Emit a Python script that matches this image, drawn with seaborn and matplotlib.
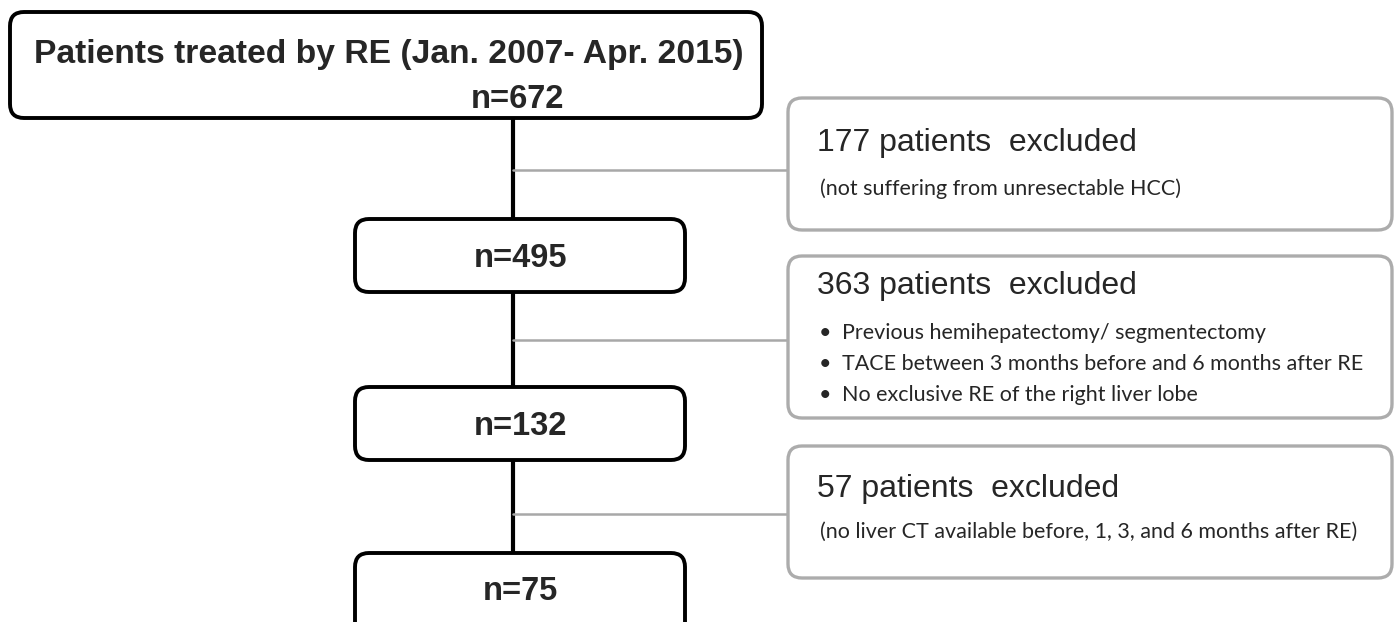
import matplotlib
matplotlib.use("Agg")
from matplotlib import pyplot as plt
from matplotlib.patches import FancyBboxPatch
import pandas as pd
import seaborn as sns

# flow data
stage_n = [672, 495, 132, 75]
title = "Patients treated by RE (Jan. 2007- Apr. 2015)"
excluded_n = [177, 363, 57]
excluded_notes = [
    ["(not suffering from unresectable HCC)"],
    ["Previous hemihepatectomy/ segmentectomy",
     "TACE between 3 months before and 6 months after RE",
     "No exclusive RE of the right liver lobe"],
    ["(no liver CT available before, 1, 3, and 6 months after RE)"],
]

sns.set_theme(style="white")
plt.rcParams["font.family"] = ["Liberation Sans", "DejaVu Sans"]

fig = plt.figure(figsize=(14, 6.22), dpi=100)
ax = fig.add_axes([0, 0, 1, 1])

# layout (pixels)
spine_x = 513
main_boxes = [(10, 12, 752, 106), (355, 219, 330, 73), (355, 387, 330, 73), (355, 553, 330, 85)]
side_boxes = [(788, 98, 604, 132), (788, 256, 604, 162), (788, 446, 604, 132)]
branch_y = [170, 340, 514]


def rbox(x, y, w, h, ec, lw):
    ax.add_patch(FancyBboxPatch((x, y), w, h, boxstyle="round,pad=0,rounding_size=14",
                                fc="white", ec=ec, lw=lw, zorder=2))


# black spine between main boxes
for i in range(len(main_boxes) - 1):
    top = main_boxes[i][1] + main_boxes[i][3]
    bot = main_boxes[i + 1][1]
    seg = pd.DataFrame({"x": [spine_x, spine_x], "y": [top, bot]})
    sns.lineplot(data=seg, x="x", y="y", ax=ax, color="black", lw=3, sort=False,
                 estimator=None, zorder=1)

# grey branches
for by, sb in zip(branch_y, side_boxes):
    seg = pd.DataFrame({"x": [spine_x, sb[0]], "y": [by, by]})
    sns.lineplot(data=seg, x="x", y="y", ax=ax, color="#a8a8a8", lw=1.8, sort=False,
                 estimator=None, zorder=1)

for b in main_boxes:
    rbox(*b, ec="black", lw=2.8)
for b in side_boxes:
    rbox(*b, ec="#acacac", lw=2.4)

ax.set_xlim(0, 1400)
ax.set_ylim(622, 0)
ax.axis("off")

big = 23.5
ax.text(34, 63, title, fontsize=24.2, fontweight="bold", va="baseline", ha="left", zorder=3)
n_base = [108, 267, 435, 600]
n_cx = [517, 520, 520, 520]
for n, cx, by in zip(stage_n, n_cx, n_base):
    ax.text(cx, by, f"n={n}", fontsize=big, fontweight="bold", va="baseline", ha="center", zorder=3)

head_y = [151, 294, 497]
note_y = [[189], [333, 364, 395], [532]]
small = 15.5
for n, notes, hy, ny in zip(excluded_n, excluded_notes, head_y, note_y):
    ax.text(817, hy, f"{n} patients  excluded", fontsize=23, va="baseline", ha="left", zorder=3)
    bullets = len(notes) > 1
    for t, yy in zip(notes, ny):
        if bullets:
            ax.text(819, yy, "\u2022", fontsize=small, va="center", ha="left", family="Lato", zorder=3)
            ax.text(842, yy, t, fontsize=small, va="center", ha="left", family="Lato", zorder=3)
        else:
            ax.text(820, yy, t, fontsize=small, va="center", ha="left", family="Lato", zorder=3)

fig.savefig("out.png", dpi=100)
